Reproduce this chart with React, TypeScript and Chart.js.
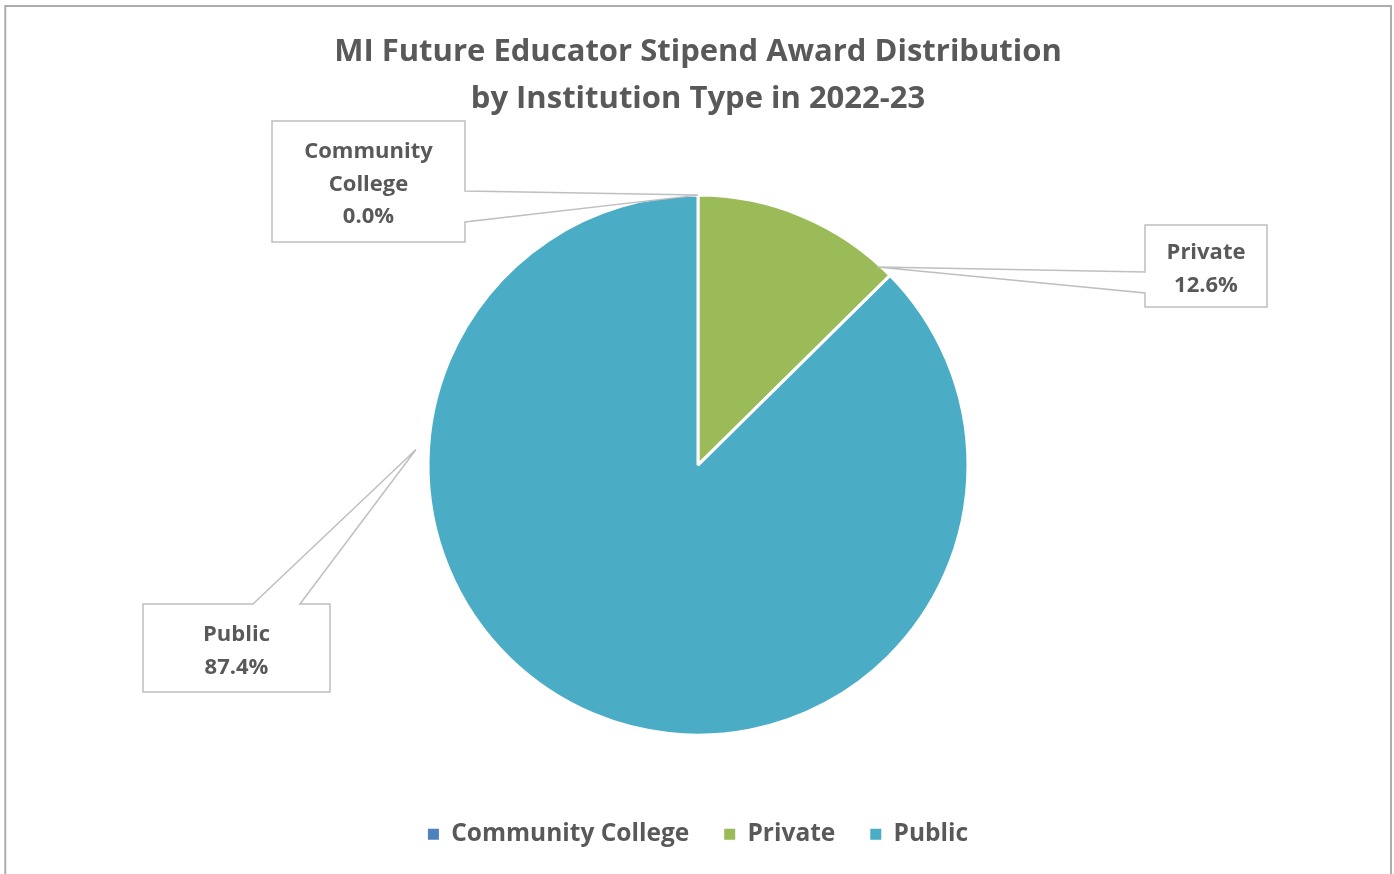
import React, { useEffect, useRef } from "react";
import { Chart, registerables } from "chart.js";

Chart.register(...registerables);

const categories = ["Community College", "Private", "Public"];
const values = [0.0, 12.6, 87.4];
const colors = ["#4F81BD", "#9BBB59", "#4BACC6"];
const titleLines = ["MI Future Educator Stipend Award Distribution", "by Institution Type in 2022-23"];

const FONT = "'Open Sans', 'Noto Sans', sans-serif";
const TEXT = "#595959";

// callout layout: box rect, tail side, tail base points, anchor fraction along the arc and radius factor
const callouts = [
  { box: [272, 121, 465, 242], side: "right", t1: 191, t2: 222, frac: 0.5, rf: 1.0 },
  { box: [1145, 225, 1267, 307], side: "left", t1: 272, t2: 293, frac: 0.93, rf: 0.99 },
  { box: [143, 604, 330, 692], side: "top", t1: 253, t2: 300, frac: 0.724, rf: 1.046 },
];

function wrap(ctx: CanvasRenderingContext2D, text: string, maxW: number): string[] {
  const words = text.split(" ");
  const lines: string[] = [];
  let cur = "";
  for (const w of words) {
    const test = cur ? cur + " " + w : w;
    if (ctx.measureText(test).width > maxW && cur) {
      lines.push(cur);
      cur = w;
    } else cur = test;
  }
  if (cur) lines.push(cur);
  return lines;
}

const borderPlugin = {
  id: "outerBorder",
  beforeDraw(chart: any) {
    const ctx = chart.ctx;
    ctx.save();
    ctx.fillStyle = "#FFFFFF";
    ctx.fillRect(0, 0, chart.width, chart.height);
    ctx.strokeStyle = "#ADADAD";
    ctx.lineWidth = 2;
    ctx.strokeRect(5.3, 6, 1385.7, 900);
    ctx.restore();
  },
};

const calloutPlugin = {
  id: "callouts",
  afterDatasetsDraw(chart: any) {
    const ctx: CanvasRenderingContext2D = chart.ctx;
    const meta = chart.getDatasetMeta(0);
    const total = values.reduce((a, b) => a + b, 0);
    ctx.save();
    callouts.forEach((c, i) => {
      const arc = meta.data[i];
      const p = arc.getProps(["x", "y", "startAngle", "endAngle", "outerRadius"], true);
      const ang = p.startAngle + c.frac * (p.endAngle - p.startAngle);
      const px = p.x + Math.cos(ang) * p.outerRadius * c.rf;
      const py = p.y + Math.sin(ang) * p.outerRadius * c.rf;
      const [l, t, r, b] = c.box;
      ctx.beginPath();
      if (c.side === "right") {
        ctx.moveTo(l, t); ctx.lineTo(r, t); ctx.lineTo(r, c.t1); ctx.lineTo(px, py);
        ctx.lineTo(r, c.t2); ctx.lineTo(r, b); ctx.lineTo(l, b);
      } else if (c.side === "left") {
        ctx.moveTo(l, t); ctx.lineTo(r, t); ctx.lineTo(r, b); ctx.lineTo(l, b);
        ctx.lineTo(l, c.t2); ctx.lineTo(px, py); ctx.lineTo(l, c.t1);
      } else {
        ctx.moveTo(l, t); ctx.lineTo(c.t1, t); ctx.lineTo(px, py); ctx.lineTo(c.t2, t);
        ctx.lineTo(r, t); ctx.lineTo(r, b); ctx.lineTo(l, b);
      }
      ctx.closePath();
      ctx.fillStyle = "#FFFFFF";
      ctx.fill();
      ctx.strokeStyle = "#BFBFBF";
      ctx.lineWidth = 1.5;
      ctx.stroke();

      ctx.font = `bold 22px ${FONT}`;
      ctx.fillStyle = TEXT;
      ctx.textAlign = "center";
      ctx.textBaseline = "middle";
      const lines = wrap(ctx, categories[i], r - l - 20);
      lines.push(((values[i] / total) * 100).toFixed(1) + "%");
      const lh = 32.5;
      const cx = (l + r) / 2;
      const cy = (t + b) / 2 + 3;
      lines.forEach((ln, k) => {
        ctx.fillText(ln, cx, cy + (k - (lines.length - 1) / 2) * lh);
      });
    });
    ctx.restore();
  },
};

export default function App() {
  const ref = useRef<HTMLCanvasElement>(null);
  useEffect(() => {
    if (!ref.current) return;
    const defaultGen = (Chart as any).overrides.pie.plugins.legend.labels.generateLabels;
    const chart = new Chart(ref.current, {
      type: "pie",
      data: {
        labels: categories,
        datasets: [
          {
            data: values,
            backgroundColor: colors,
            borderColor: "#FFFFFF",
            borderWidth: 3,
            radius: 270,
          } as any,
        ],
      },
      options: {
        responsive: false,
        animation: false,
        layout: { padding: { left: 2, right: 0, top: 0, bottom: 17.5 } },
        plugins: {
          title: {
            display: true,
            text: titleLines,
            color: TEXT,
            font: { family: FONT, size: 31, weight: "bold", lineHeight: 1.516 },
            padding: { top: 28.5, bottom: 20.75 },
          },
          legend: {
            display: true,
            position: "bottom",
            labels: {
              color: TEXT,
              font: { family: FONT, size: 24.5, weight: "bold" },
              boxWidth: 11,
              boxHeight: 11,
              padding: 35,
              generateLabels: (ch: any) =>
                defaultGen(ch).map((it: any) => ({ ...it, lineWidth: 0, strokeStyle: "rgba(0,0,0,0)" })),
            },
          },
          tooltip: { enabled: false },
        },
      },
      plugins: [borderPlugin, calloutPlugin],
    });
    return () => chart.destroy();
  }, []);
  return (
    <div style={{ position: "absolute", left: 0, top: 0, width: 1394, height: 874 }}>
      <canvas ref={ref} width={1394} height={874} style={{ display: "block" }} />
    </div>
  );
}
